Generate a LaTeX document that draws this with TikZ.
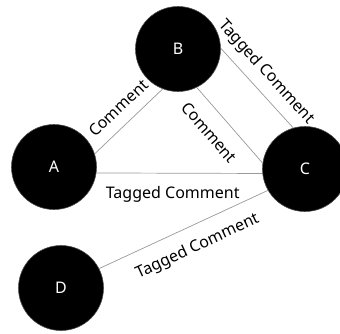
\documentclass[tikz,border=0pt]{standalone}
\usepackage{fontspec}
\setmainfont{Noto Sans}
\begin{document}
\begin{tikzpicture}[x=1pt,y=-1pt,
  vertex/.style={circle, fill=black, draw=black!70, line width=0.6pt, minimum size=85pt, inner sep=0pt, text=white, font=\fontsize{16}{19}\selectfont},
  link/.style={draw=black!40, line width=0.7pt},
  lbl/.style={font=\fontsize{16}{19}\selectfont, text=black, inner sep=0pt, text height=0pt, text depth=0pt, sloped}]
\useasboundingbox (0,0) rectangle (340,333);
\node[vertex] (A) at (54,167) {A};
\node[vertex] (B) at (178,49) {B};
\node[vertex] (C) at (305,169) {C};
\node[vertex] (D) at (61,288) {D};
\draw[link] (A.18) -- node[lbl, above, outer sep=10.5pt, pos=0.52] {Comment} (B.-111);
\draw[link] (B.-64) -- node[lbl, below, outer sep=25.5pt, pos=0.42] {Comment} (C.172);
\draw[link] (B.1) -- node[lbl, above, outer sep=13pt, pos=0.45] {Tagged Comment} (C.106);
\draw[link] (A.-8) -- node[lbl, below, outer sep=24.7pt, pos=0.46] {Tagged Comment} (C.186);
\draw[link] (D.27) -- node[lbl, below, outer sep=25pt, pos=0.53] {Tagged Comment} (C.210);
\end{tikzpicture}
\end{document}
